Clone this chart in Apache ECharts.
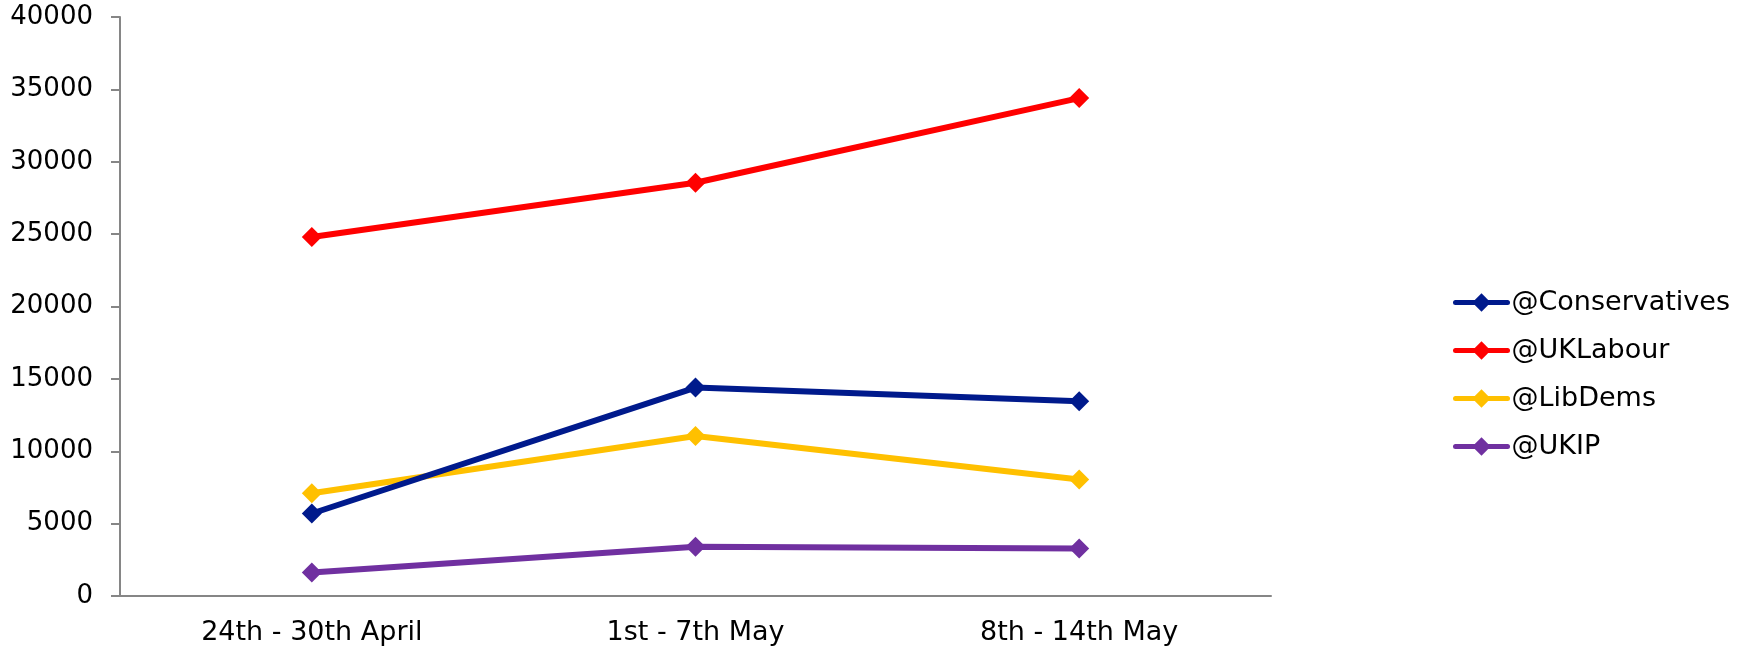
<!DOCTYPE html>
<html><head><meta charset="utf-8">
<script src="https://cdn.jsdelivr.net/npm/echarts@6/dist/echarts.min.js"></script>
<style>html,body{margin:0;padding:0;background:#fff}#c{width:1746px;height:648px}</style>
</head><body><div id="c"></div>
<script>
const categories = ["24th - 30th April", "1st - 7th May", "8th - 14th May"];
const conservatives = [5700, 14400, 13450];
const labour = [24800, 28550, 34400];
const libdems = [7100, 11050, 8050];
const ukip = [1620, 3400, 3280];
const seriesNames = ["@Conservatives", "@UKLabour", "@LibDems", "@UKIP"];
const colors = ["#001A8C", "#FF0000", "#FFC000", "#7030A0"];
const yTicks = [0, 5000, 10000, 15000, 20000, 25000, 30000, 35000, 40000];

const font = "DejaVu Sans";
const chart = echarts.init(document.getElementById('c'));
const data = [conservatives, labour, libdems, ukip];
chart.setOption({
  animation: false,
  textStyle: {fontFamily: font},
  grid: {left: 120, right: 475, top: 17, bottom: 52, containLabel: false},
  legend: {
    orient: 'vertical', left: 1448, top: 284,
    itemWidth: 52, itemHeight: 23, itemGap: 21,
    lineStyle: {width: 5, cap: 'round'},
    textStyle: {fontFamily: font, fontSize: 27, lineHeight: 27, color: '#000', padding: [0,0,0,-1]},
    data: seriesNames
  },
  xAxis: {
    type: 'category', data: categories, boundaryGap: true,
    axisLine: {lineStyle: {color: '#868686', width: 2}},
    axisTick: {show: false},
    axisLabel: {fontSize: 27, color: '#000', margin: 23, fontFamily: font}
  },
  yAxis: {
    type: 'value', min: yTicks[0], max: yTicks[yTicks.length-1], interval: 5000,
    axisLine: {show: true, lineStyle: {color: '#868686', width: 2}},
    axisTick: {show: true, length: 9, lineStyle: {color: '#868686', width: 2}},
    splitLine: {show: false},
    axisLabel: {fontSize: 26, color: '#000', margin: 27, fontFamily: font,
      formatter: v => String(v)}
  },
  series: seriesNames.map((n, i) => ({
    name: n, type: 'line', data: data[i],
    symbol: 'diamond', symbolSize: 20,
    lineStyle: {color: colors[i], width: 6},
    itemStyle: {color: colors[i]},
    z: 10 - i
  }))
});
</script></body></html>
